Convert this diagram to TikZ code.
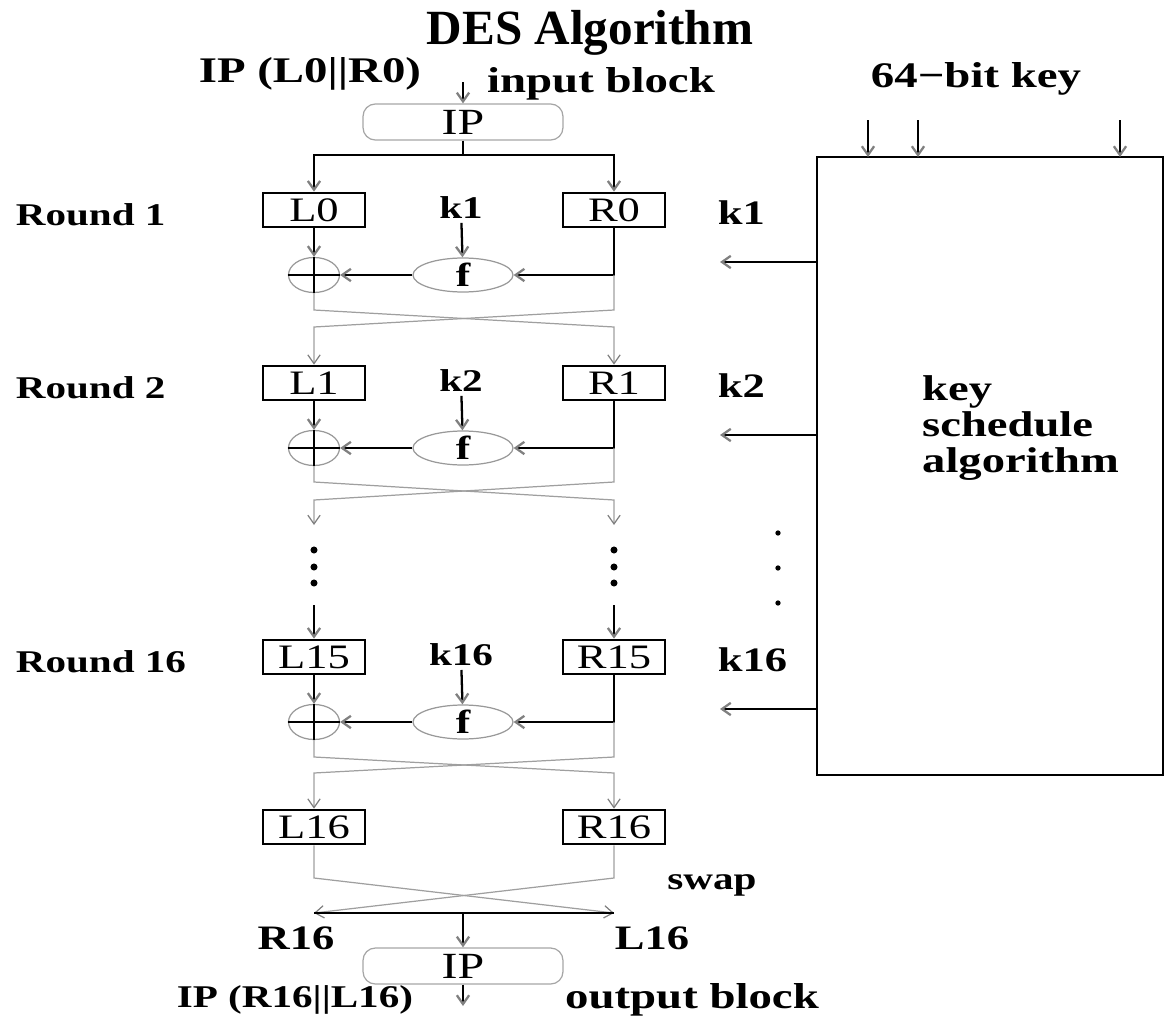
\documentclass[tikz,border=0pt]{standalone}
\usepackage{fontspec}
\setmainfont{Liberation Serif}
\newfontfamily\widefont[FakeStretch=1.3]{Liberation Serif}
\usetikzlibrary{arrows.meta,shapes.geometric,positioning}

\begin{document}
\begin{tikzpicture}[x=0.02cm,y=-0.02cm,
  wire/.style={line width=1.3pt},
  thinwire/.style={gray!75,line width=0.7pt},
  tipg/.style={-{Straight Barb[length=5pt,width=7pt,color=gray]}},
  halfbox/.style={draw,line width=1.5pt,minimum width=2.04cm,minimum height=0.68cm,inner sep=0pt,font=\widefont\fontsize{19.5}{20}\selectfont},
  ipbox/.style={draw=gray!70,line width=0.7pt,rounded corners=7pt,minimum width=4cm,minimum height=0.72cm,inner sep=0pt,font=\widefont\fontsize{21}{20}\selectfont},
  fnode/.style={ellipse,draw=gray!80,line width=0.7pt,minimum width=2cm,minimum height=0.68cm,inner sep=0pt,font=\widefont\bfseries\fontsize{19}{20}\selectfont},
  xornode/.style={ellipse,draw=gray!80,line width=0.7pt,minimum width=1.02cm,minimum height=0.7cm,inner sep=0pt},
  lbl/.style={font=\widefont\bfseries\fontsize{18}{20}\selectfont,inner sep=2pt},
  biglbl/.style={font=\widefont\bfseries\fontsize{20.5}{22}\selectfont,inner sep=2pt},
]
  \useasboundingbox (0,0) rectangle (1167,1021);

  % Title and input
  \node[font=\bfseries\fontsize{28}{30}\selectfont] (title) at (590,33) {DES Algorithm};
  \node[biglbl] (inlbl) at (310,74) {IP (L0||R0)};
  \node[biglbl] (inblk) at (601,84) {input block};
  \node[ipbox] (ipi) at (463,122) {IP};
  \coordinate (inp) at (463,82);
  \draw[wire,tipg] (inp) -- (ipi);
  \draw[wire] (ipi.south) -- (463,155) coordinate (sp);

  % Key schedule box
  \node[draw,line width=1.5pt,minimum width=6.92cm,minimum height=12.36cm,inner sep=0pt] (ks) at (990,466) {};
  \node[biglbl] (keylbl) at (976,79) {64−bit key};
  \foreach \x in {868,918,1120}
    \draw[wire,tipg] (\x,120) -- (\x,157);
  \node[anchor=west,align=left,font=\widefont\bfseries\fontsize{20.4}{20.5}\selectfont] (kstxt) at (916,428) {key\\schedule\\algorithm};

  % The three rounds that are drawn
  \foreach \y/\n/\lt/\rt in {210/1/L0/R0, 383/2/L1/R1, 657/16/L15/R15}{
    \node[lbl,anchor=west] (rd\n) at (12,\y+5) {Round \n};
    \node[halfbox] (l\n) at (314,\y) {\lt};
    \node[halfbox] (r\n) at (614,\y) {\rt};
    \node[lbl] (k\n) at (461,\y-2) {k\n};
    \node[fnode] (f\n) at (463,\y+65) {f};
    \node[xornode] (x\n) at (314,\y+65) {};
    \node[lbl,anchor=west,font=\widefont\bfseries\fontsize{19.5}{20}\selectfont] (kk\n) at (714,\y+3) {k\n};
    \coordinate (ka\n) at (720,\y+52);
    \draw[wire,tipg] (l\n) -- (x\n);
    \draw[wire,tipg] (k\n) -- (f\n);
    \draw[wire,tipg] (r\n.south) |- (f\n);
    \draw[wire,tipg] (f\n) -- (x\n);
    \draw[wire] (x\n.north) -- (x\n.south) (x\n.west) -- (x\n.east);
    \draw[wire,tipg] (ka\n -| ks.west) -- (ka\n);
  }

  % first split
  \draw[wire,tipg] (sp) -| (l1);
  \draw[wire,tipg] (sp) -| (r1);

  % crossings between rounds
  \draw[thinwire,tipg] (x1.south) -- (314,310) -- (614,327) -- (r2);
  \draw[thinwire,tipg] (r1.south |- f1) -- (614,310) -- (314,327) -- (l2);
  \coordinate (dl) at (314,525);
  \coordinate (dr) at (614,525);
  \draw[thinwire,tipg] (x2.south) -- (314,482) -- (614,500) -- (dr);
  \draw[thinwire,tipg] (r2.south |- f2) -- (614,482) -- (314,500) -- (dl);

  % dots
  \foreach \x in {314,614}
    \foreach \yy in {550,567,583}
      \fill (\x,\yy) circle (2pt);
  \foreach \yy in {533,568,603}
    \fill (778,\yy) circle (1.5pt);
  \coordinate (el) at (314,605);
  \coordinate (er) at (614,605);
  \draw[wire,tipg] (el) -- (l16);
  \draw[wire,tipg] (er) -- (r16);

  % last halves
  \node[halfbox] (lo) at (314,827) {L16};
  \node[halfbox] (ro) at (614,827) {R16};
  \draw[thinwire,tipg] (x16.south) -- (314,757) -- (614,773) -- (ro);
  \draw[thinwire,tipg] (r16.south |- f16) -- (614,757) -- (314,773) -- (lo);

  % swap
  \coordinate (sl) at (314,913);
  \coordinate (sr) at (614,913);
  \coordinate (sm) at (463,913);
  \draw[thinwire,tipg] (lo) -- (314,878) -- (sr);
  \draw[thinwire,tipg] (ro) -- (614,878) -- (sl);
  \draw[wire] (sl) -- (sr);
  \node[lbl] (swp) at (712,885) {swap};
  \node[lbl,font=\widefont\bfseries\fontsize{19.5}{20}\selectfont] (swr) at (296,938) {R16};
  \node[lbl,font=\widefont\bfseries\fontsize{19.5}{20}\selectfont] (swl) at (652,938) {L16};

  % output
  \node[ipbox] (ipo) at (463,966) {IP};
  \draw[wire,tipg] (sm) -- (ipo);
  \coordinate (outp) at (463,1006);
  \draw[wire,tipg] (ipo) -- (outp);
  \node[lbl] (outlbl) at (295,1000) {IP (R16||L16)};
  \node[biglbl] (outblk) at (692,1000) {output block};
\end{tikzpicture}
\end{document}
